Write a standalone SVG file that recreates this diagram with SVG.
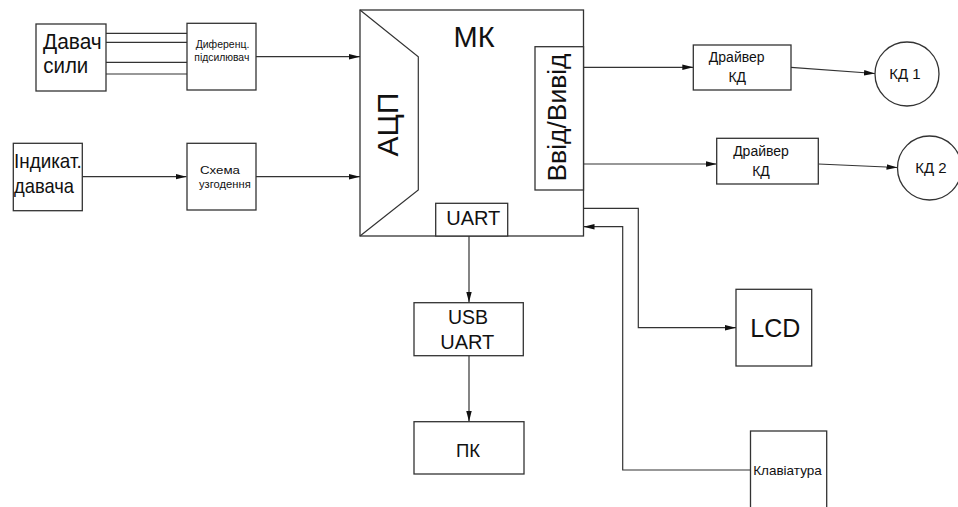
<svg xmlns="http://www.w3.org/2000/svg" width="958" height="507" viewBox="0 0 958 507">
<style>
.b{fill:#fff;stroke:#333;stroke-width:1.3}
.c{fill:none;stroke:#333;stroke-width:1.2}
text{font-family:"Liberation Sans",Arial,sans-serif;fill:#111;text-anchor:middle}
.s{text-anchor:start}
</style>
<defs>
<marker id="a" markerWidth="12" markerHeight="8" refX="11" refY="4" orient="auto" markerUnits="userSpaceOnUse">
<path d="M0,1.2 L11,4 L0,6.8 Z" fill="#111"/>
</marker>
</defs>
<rect width="958" height="507" fill="#fff"/>
<g id="connectors">
<path class="c" d="M106,33.3H187M106,42.3H187M106,62.3H187M106,74H187"/>
<path class="c" d="M256,56.7H360" marker-end="url(#a)"/>
<path class="c" d="M82,176.7H186.5" marker-end="url(#a)"/>
<path class="c" d="M256,176.7H360" marker-end="url(#a)"/>
<path class="c" d="M583.5,67.3H693.3" marker-end="url(#a)"/>
<path class="c" d="M791,67.3L875,73.5" marker-end="url(#a)"/>
<path class="c" d="M583.5,164H716.7" marker-end="url(#a)"/>
<path class="c" d="M818.3,164L897.5,167.5" marker-end="url(#a)"/>
<path class="c" d="M469,236V302.5" marker-end="url(#a)"/>
<path class="c" d="M469,355.7V421.7" marker-end="url(#a)"/>
<path class="c" d="M583.5,208.3H638.3V327.7H736" marker-end="url(#a)"/>
<path class="c" d="M750.5,470H622.7V226.7H583.5" marker-end="url(#a)"/>
</g>
<g id="davach">
<rect class="b" x="36" y="24" width="70" height="67"/>
<text class="s" x="43" y="49.3" font-size="22" textLength="58.7" lengthAdjust="spacingAndGlyphs">Давач</text>
<text class="s" x="43.3" y="72.7" font-size="22" textLength="45" lengthAdjust="spacingAndGlyphs">сили</text>
</g>
<g id="dyferents">
<rect class="b" x="187" y="23.3" width="69" height="66.7"/>
<text class="s" x="195.7" y="48" font-size="10.5" textLength="53.7" lengthAdjust="spacingAndGlyphs">Диференц.</text>
<text class="s" x="194.3" y="61" font-size="10.5" textLength="55" lengthAdjust="spacingAndGlyphs">підсилювач</text>
</g>
<g id="indykat">
<rect class="b" x="13.3" y="143.3" width="69" height="67.4"/>
<text class="s" x="14" y="168.3" font-size="21" textLength="67.7" lengthAdjust="spacingAndGlyphs">Індикат.</text>
<text class="s" x="14" y="193.3" font-size="21" textLength="60" lengthAdjust="spacingAndGlyphs">давача</text>
</g>
<g id="skhema">
<rect class="b" x="187" y="143.3" width="69" height="66.7"/>
<text class="s" x="200" y="173.5" font-size="11.5" textLength="40" lengthAdjust="spacingAndGlyphs">Схема</text>
<text class="s" x="199" y="187.5" font-size="11.5" textLength="51.7" lengthAdjust="spacingAndGlyphs">узгодення</text>
</g>
<g id="mk">
<rect class="b" x="360" y="10" width="223.5" height="226"/>
<path class="c" d="M360,10L418.3,56.7V190L360,236"/>
<text x="474" y="46.7" font-size="29">МК</text>
<text transform="translate(398,124.7) rotate(-90)" font-size="30">АЦП</text>
<rect class="b" x="535" y="46.7" width="48.5" height="143.3"/>
<text transform="translate(566,117.5) rotate(-90)" font-size="26.5" textLength="128" lengthAdjust="spacingAndGlyphs">Ввід/Вивід</text>
<rect class="b" x="435.7" y="203.3" width="72" height="32.7"/>
<text x="473.3" y="225.3" font-size="20">UART</text>
</g>
<g id="driver1">
<rect class="b" x="693.3" y="45" width="97.7" height="45"/>
<text x="736.7" y="62.3" font-size="14">Драйвер</text>
<text x="737.3" y="82" font-size="14">КД</text>
</g>
<g id="kd1">
<circle class="b" cx="907" cy="74" r="32"/>
<text x="905" y="78.5" font-size="15">КД 1</text>
</g>
<g id="driver2">
<rect class="b" x="716.7" y="138.3" width="101.6" height="45.7"/>
<text x="761" y="156" font-size="14">Драйвер</text>
<text x="761" y="176" font-size="14">КД</text>
</g>
<g id="kd2">
<circle class="b" cx="929.5" cy="168" r="32"/>
<text x="931" y="172.5" font-size="15">КД 2</text>
</g>
<g id="usbuart">
<rect class="b" x="414" y="302.7" width="109.3" height="53"/>
<text x="468" y="324" font-size="19.5">USB</text>
<text x="467.3" y="349" font-size="20">UART</text>
</g>
<g id="pk">
<rect class="b" x="414" y="421.7" width="110" height="52.3"/>
<text x="468" y="456.7" font-size="18.5">ПК</text>
</g>
<g id="lcd">
<rect class="b" x="736" y="289.3" width="75.7" height="76.7"/>
<text x="775.3" y="336.7" font-size="25">LCD</text>
</g>
<g id="klaviatura">
<rect class="b" x="750.5" y="431" width="76.2" height="90"/>
<text x="787.5" y="474.7" font-size="13.5">Клавіатура</text>
</g>
</svg>
